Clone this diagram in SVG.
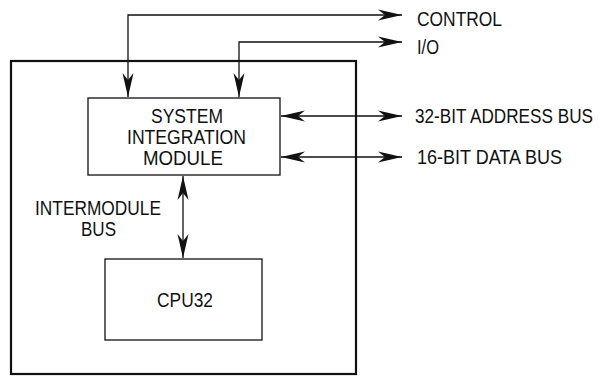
<svg xmlns="http://www.w3.org/2000/svg" width="604" height="376" viewBox="0 0 604 376">
<style>
  .lbl { font-family: "Liberation Sans", Arial, sans-serif; font-size: 21px; fill: #111; }
  .box { fill: #fff; stroke: #111; stroke-width: 1.3; }
  .outer { fill: none; stroke: #111; stroke-width: 2.2; }
  .wire { fill: none; stroke: #111; stroke-width: 1.3; marker-start: url(#ah); marker-end: url(#ah); }
</style>
<defs>
  <marker id="ah" viewBox="0 0 24 12" refX="24" refY="6" markerWidth="24" markerHeight="12" markerUnits="userSpaceOnUse" orient="auto-start-reverse">
    <path d="M0,0.5 L24,6 L0,11.5 L7,6 z" fill="#111"/>
  </marker>
</defs>
<rect width="604" height="376" fill="#fff"/>
<g id="chip">
  <rect class="outer" x="11" y="61" width="345" height="313"/>
</g>
<g id="sim">
  <rect class="box" x="88" y="98" width="192" height="77"/>
  <text class="lbl" x="187" y="123" text-anchor="middle" textLength="72" lengthAdjust="spacingAndGlyphs">SYSTEM</text>
  <text class="lbl" x="186.5" y="144" text-anchor="middle" textLength="119" lengthAdjust="spacingAndGlyphs">INTEGRATION</text>
  <text class="lbl" x="183" y="165" text-anchor="middle" textLength="80" lengthAdjust="spacingAndGlyphs">MODULE</text>
</g>
<g id="cpu32">
  <rect class="box" x="105" y="259" width="157" height="81"/>
  <text class="lbl" x="185" y="307" text-anchor="middle" textLength="56" lengthAdjust="spacingAndGlyphs">CPU32</text>
</g>
<g id="connectors">
  <path class="wire" d="M128,97 V15 H402"/>
  <path class="wire" d="M239,97 V42 H402"/>
  <path class="wire" d="M281,116 H402"/>
  <path class="wire" d="M281,157 H402"/>
  <path class="wire" d="M183,176 V258"/>
</g>
<g id="labels">
  <text class="lbl" x="417" y="26" textLength="85" lengthAdjust="spacingAndGlyphs">CONTROL</text>
  <text class="lbl" x="417" y="54" textLength="22" lengthAdjust="spacingAndGlyphs">I/O</text>
  <text class="lbl" style="font-size:17.5px" transform="translate(415,123) scale(1,1.2)" x="0" y="0" textLength="178" lengthAdjust="spacingAndGlyphs">32-BIT ADDRESS BUS</text>
  <text class="lbl" x="417" y="164" textLength="145" lengthAdjust="spacingAndGlyphs">16-BIT DATA BUS</text>
  <text class="lbl" x="35" y="215" textLength="126" lengthAdjust="spacingAndGlyphs">INTERMODULE</text>
  <text class="lbl" x="81" y="236" textLength="35" lengthAdjust="spacingAndGlyphs">BUS</text>
</g>
</svg>
